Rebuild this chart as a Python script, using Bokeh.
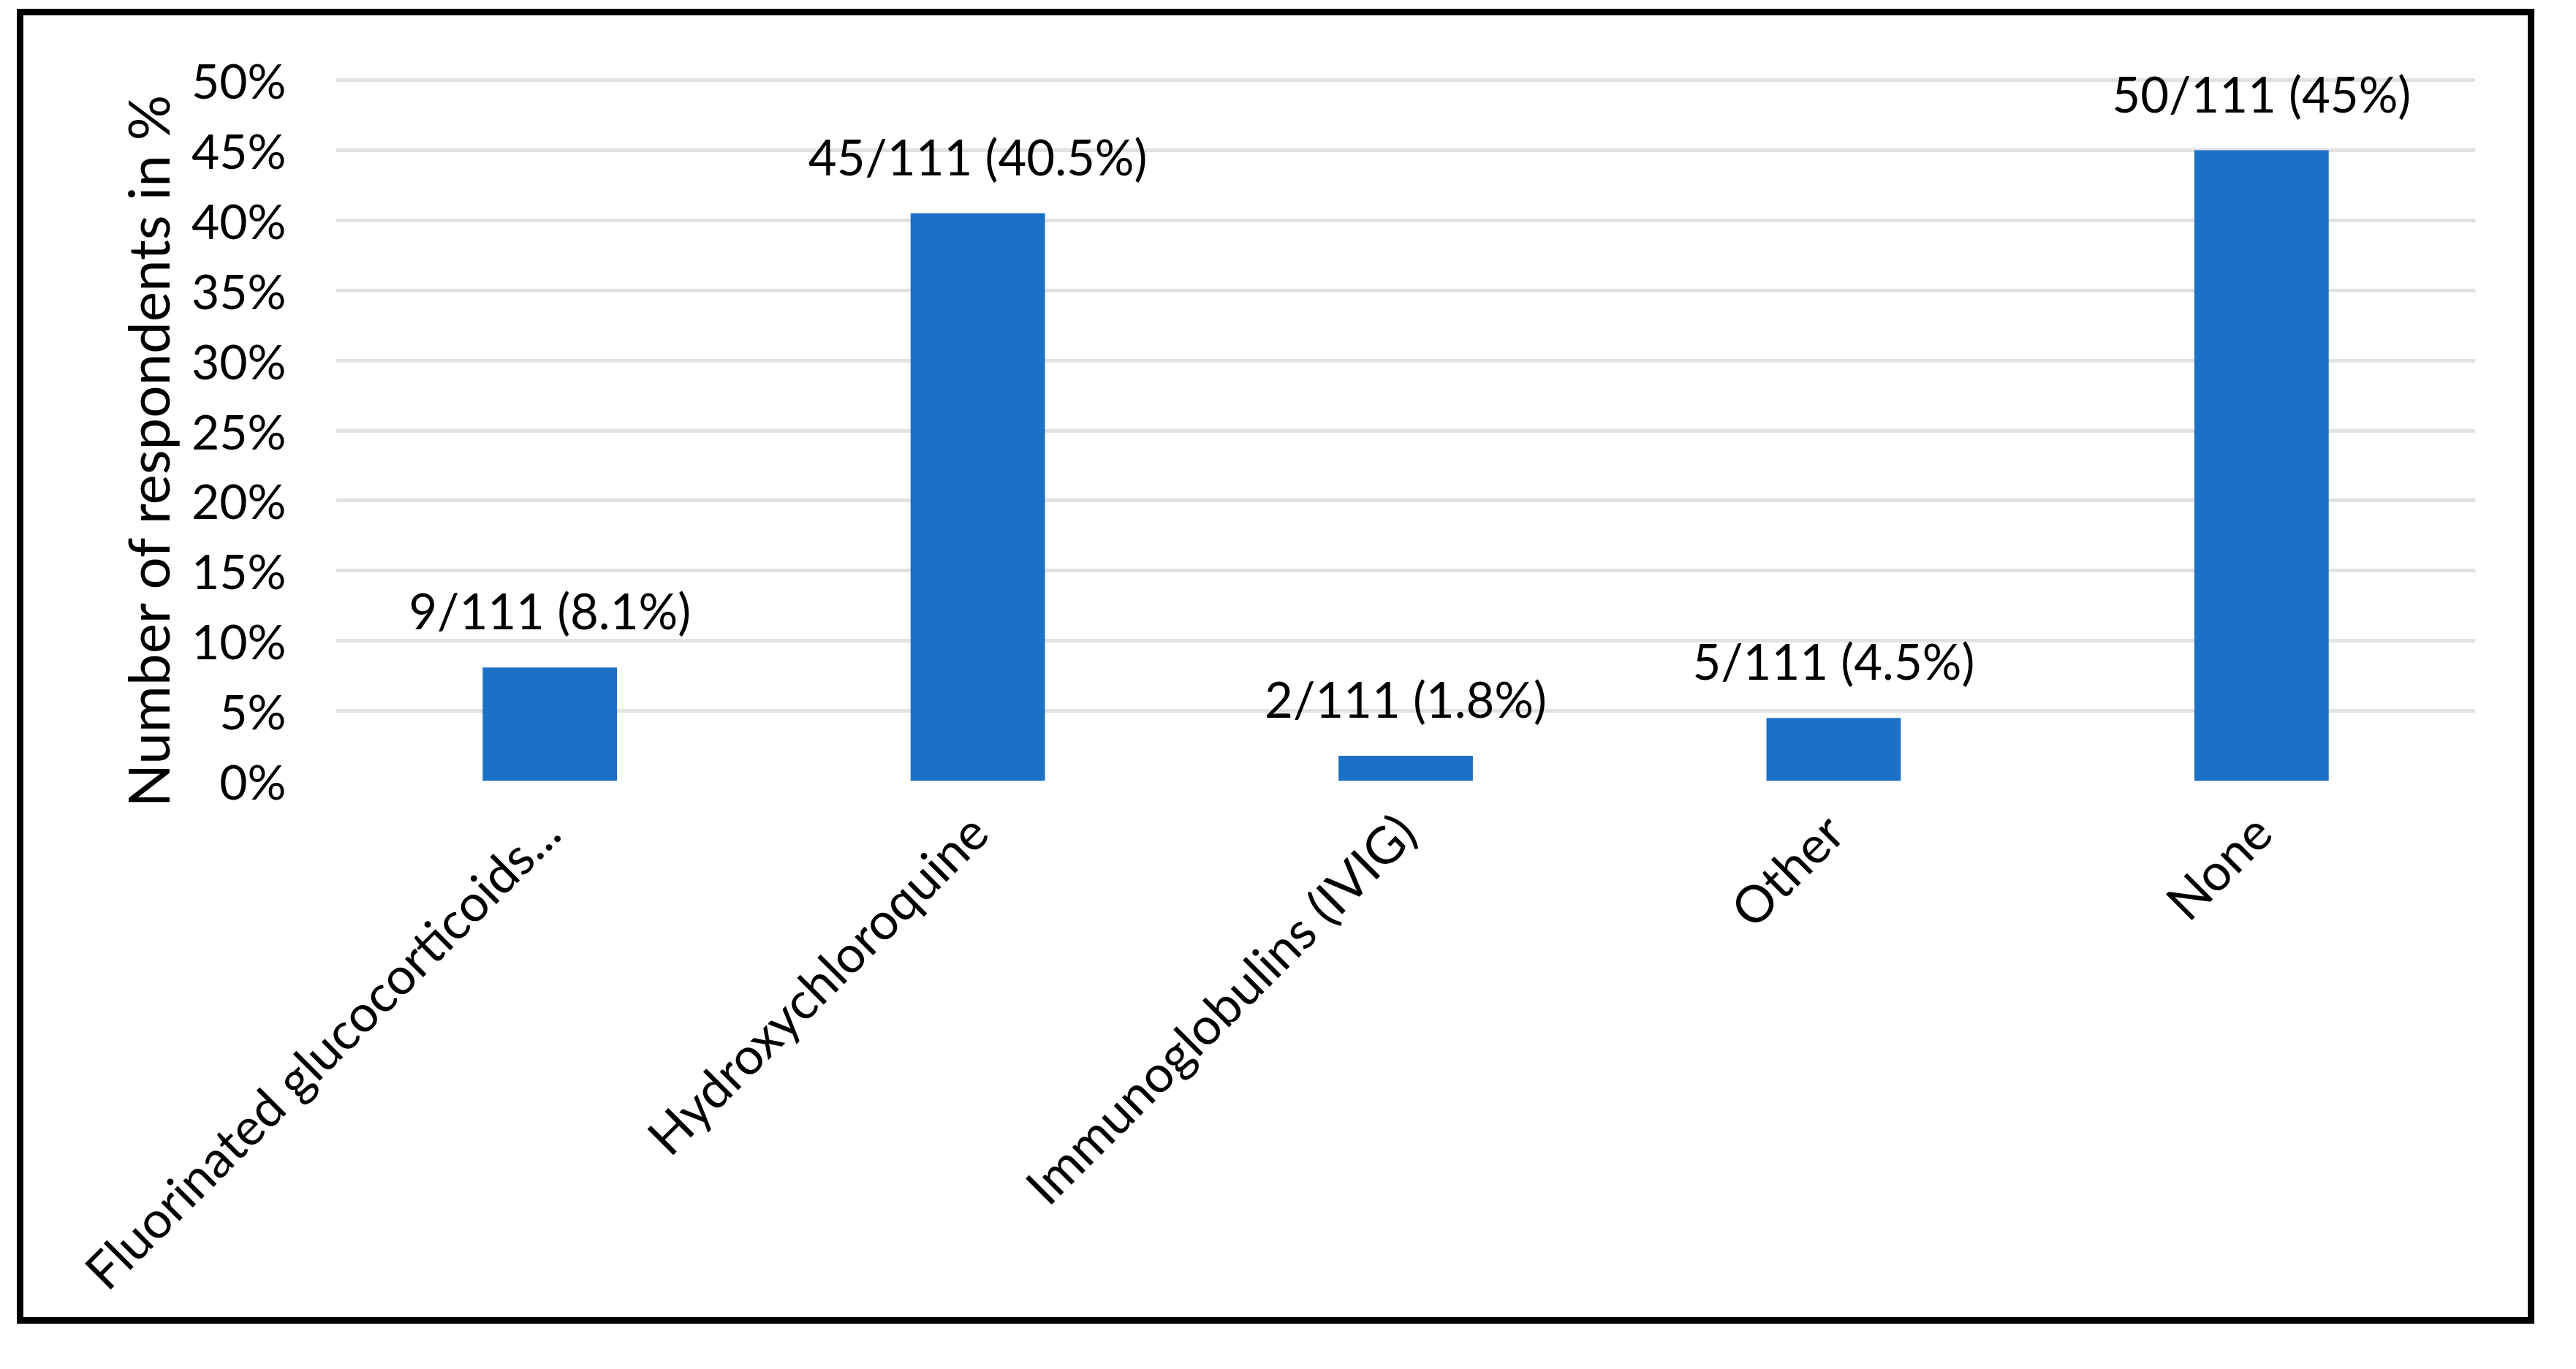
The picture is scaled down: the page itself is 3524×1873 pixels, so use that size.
import math
from bokeh.plotting import figure
from bokeh.layouts import column, row
from bokeh.models import (ColumnDataSource, FactorRange, Range1d, FixedTicker,
                          PrintfTickFormatter, LabelSet, Spacer, Title)
from bokeh.core.properties import value
from bokeh.embed import file_html
from bokeh.resources import INLINE

# ---- data ----
categories = ["Fluorinated glucocorticoids...", "Hydroxychloroquine",
              "Immunoglobulins (IVIG)", "Other", "None"]
counts = [9, 45, 2, 5, 50]
total = 111
percents = [8.1, 40.5, 1.8, 4.5, 45.0]
percent_text = ["8.1%", "40.5%", "1.8%", "4.5%", "45%"]
y_ticks = [0, 5, 10, 15, 20, 25, 30, 35, 40, 45, 50]
y_label = "Number of respondents in %"

bar_labels = [f"{c}/{total} ({t})" for c, t in zip(counts, percent_text)]

src = ColumnDataSource(dict(cat=categories, pct=percents, lab=bar_labels))

FONT = "Lato"

p = figure(
    width=3444, height=1799,
    x_range=FactorRange(factors=categories, range_padding=0),
    y_range=Range1d(0, 51),
    output_backend="svg", toolbar_location=None,
    min_border_left=427, min_border_right=90,
    min_border_top=69, min_border_bottom=752,
)
p.styles = {"border": "9px solid black"}
p.outline_line_color = None
p.background_fill_color = "white"
p.border_fill_color = "white"

p.vbar(x="cat", top="pct", width=0.314, source=src,
       fill_color="#1c71c7", line_color=None)

labels = LabelSet(x="cat", y="pct", text="lab", source=src,
                  text_align="center", text_baseline="alphabetic",
                  y_offset=52, text_font=value(FONT), text_font_size="67px",
                  text_color="black")
p.add_layout(labels)

# grid
p.xgrid.visible = False
p.ygrid.grid_line_color = "#e1e1e1"
p.ygrid.grid_line_width = 5

# y axis
p.yaxis.ticker = FixedTicker(ticks=y_ticks)
p.yaxis.formatter = PrintfTickFormatter(format="%d%%")
p.yaxis.axis_line_color = None
p.yaxis.major_tick_line_color = None
p.yaxis.minor_tick_line_color = None
p.yaxis.major_tick_out = 0
p.yaxis.major_label_standoff = 68
p.yaxis.major_label_text_font = FONT
p.yaxis.major_label_text_font_size = "66px"
p.yaxis.major_label_text_color = "black"

ytitle = Title(text=y_label, align="left", offset=-36, standoff=22,
               text_font=FONT, text_font_size="78px", text_font_style="normal",
               text_color="black")
p.add_layout(ytitle, "left")

# x axis
p.xaxis.axis_line_color = None
p.xaxis.major_tick_line_color = None
p.xaxis.minor_tick_line_color = None
p.xaxis.major_tick_out = 0
p.xaxis.major_label_orientation = math.pi / 4
p.xaxis.major_label_standoff = 57
p.xaxis.major_label_text_font = FONT
p.xaxis.major_label_text_font_size = "70px"
p.xaxis.major_label_text_color = "black"

layout = column(Spacer(height=12), row(Spacer(width=23), p))

open("out.html", "w").write(file_html(layout, INLINE))
